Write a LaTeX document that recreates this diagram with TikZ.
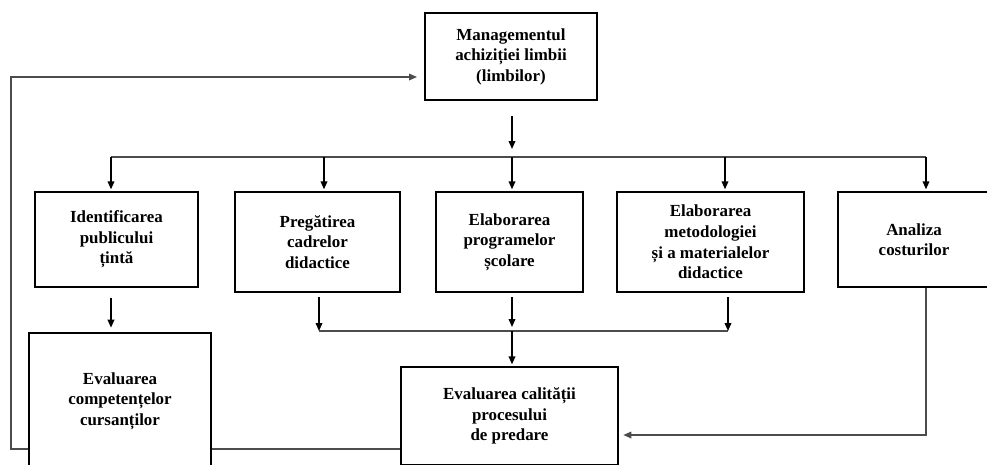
\documentclass[tikz,border=0pt]{standalone}
\usepackage{fontspec}
\setmainfont{Liberation Serif}
\usetikzlibrary{arrows.meta}
\begin{document}
\begin{tikzpicture}[x=0.75pt,y=-0.75pt,
  box/.style={draw=black, line width=2pt, align=center, inner sep=0pt,
    font=\bfseries\fontsize{12.7}{15.4}\selectfont},
  arr/.style={line width=1.1pt, draw=black, -{Triangle[length=6pt,width=5pt]}},
  ln/.style={line width=0.9pt, draw=black!70}]
\clip (0,0) rectangle (987,464);
\fill[white] (0,0) rectangle (987,464);
% boxes
\node[box, minimum width=129pt, minimum height=65.25pt] (mg) at (511,56.5) {Managementul\\achiziției limbii\\(limbilor)};
\node[box, minimum width=122.25pt, minimum height=71.25pt] (id) at (116.5,239.5) {Identificarea\\publicului\\țintă};
\node[box, minimum width=123.75pt, minimum height=75pt] (pr) at (317.5,242) {Pregătirea\\cadrelor\\didactice};
\node[box, minimum width=110.25pt, minimum height=75pt] (pg) at (509.5,242) {Elaborarea\\programelor\\școlare};
\node[box, minimum width=140.25pt, minimum height=75pt] (me) at (710.5,242) {Elaborarea\\metodologiei\\și a materialelor\\didactice};
\node[box, minimum width=114pt, minimum height=71.25pt] (an) at (914,239.5) {Analiza\\costurilor};
\node[box, minimum width=136.5pt, minimum height=102pt] (co) at (120,401) {Evaluarea\\competențelor\\cursanților};
\node[box, minimum width=162.75pt, minimum height=73.5pt] (ca) at (509.5,416) {Evaluarea calității\\procesului\\de predare};
% bus
\coordinate (b1) at (111,157);
\coordinate (b2) at (324,157);
\coordinate (b3) at (512,157);
\coordinate (b4) at (725,157);
\coordinate (b5) at (926,157);
\draw[ln] (b1) -- (b5);
\draw[arr, shorten <=11pt, shorten >=6pt] (mg.south -| b3) -- (b3);
\foreach \b/\n in {b1/id, b2/pr, b3/pg, b4/me, b5/an}
  \draw[arr, shorten >=1pt] (\b) -- (\b |- \n.north);
% merge
\coordinate (c1) at (319,331);
\coordinate (c3) at (512,331);
\coordinate (c4) at (728,331);
\draw[ln] (c1) -- (c4);
\draw[arr, shorten <=3pt] (c1 |- pr.south) -- (c1);
\draw[arr, shorten <=3pt, shorten >=3pt] (c3 |- pg.south) -- (c3);
\draw[arr, shorten <=3pt] (c4 |- me.south) -- (c4);
\draw[arr, shorten >=1pt] (c3) -- (c3 |- ca.north);
\draw[arr, shorten <=7pt, shorten >=3pt] (b1 |- id.south) -- (b1 |- co.north);
% costs to quality
\coordinate (a1) at (926,435);
\draw[ln, -{Triangle[length=6pt,width=5pt]}, shorten >=3pt] (a1 |- an.south) -- (a1) -- (a1 -| ca.east);
% feedback
\coordinate (f1) at (11,449);
\coordinate (f2) at (11,77);
\draw[ln] (ca.west |- f1) -- (co.east |- f1);
\draw[ln, -{Triangle[length=6pt,width=5pt]}, shorten >=5pt] (co.west |- f1) -- (f1) -- (f2) -- (f2 -| mg.west);
\end{tikzpicture}
\end{document}
